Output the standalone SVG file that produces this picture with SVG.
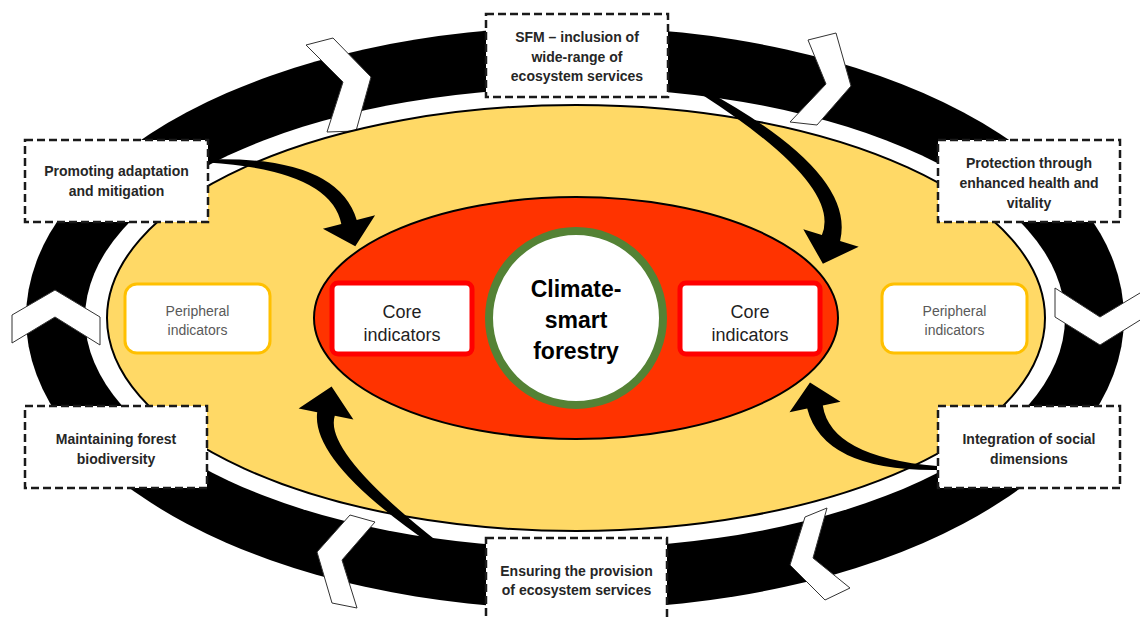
<svg xmlns="http://www.w3.org/2000/svg" width="1140" height="617" viewBox="0 0 1140 617">
<defs>
<style>
.chev{fill:#fff;stroke:#333;stroke-width:1}
.dash{fill:#fff;stroke:#1a1a1a;stroke-width:2.5;stroke-dasharray:8 4}
.lbl{font-family:"Liberation Sans",Arial,sans-serif;font-weight:bold;font-size:14px;fill:#262626;text-anchor:middle}
.core{fill:#fff;stroke:#ff0000;stroke-width:5}
.coret{font-family:"Liberation Sans",Arial,sans-serif;font-size:18px;fill:#1f1f1f;text-anchor:middle}
.peri{fill:#fff;stroke:#ffc000;stroke-width:3}
.perit{font-family:"Liberation Sans",Arial,sans-serif;font-size:14px;fill:#595959;text-anchor:middle}
.arrow{fill:#000}
</style>
</defs>
<rect width="1140" height="617" fill="#fff"/>
<g id="ring">
<ellipse cx="575" cy="318" rx="549" ry="291" fill="#000"/>
<ellipse cx="575" cy="318" rx="490" ry="230" fill="#fff"/>
</g>
<g id="chevrons">
<polygon class="chev" points="306,45 333,38 371,77 356,131 327,132 343,82"/>
<polygon class="chev" points="808,40 836,33 851,86 817,125 790,122 826,84"/>
<polygon class="chev" points="1055,288 1100,317 1145,290 1145,317 1100,345 1055,317"/>
<polygon class="chev" points="12,315 55,290 100,317 100,345 55,317 12,343"/>
<polygon class="chev" points="350,515 375,522 342,560 357,608 332,603 317,552"/>
<polygon class="chev" points="805,517 827,508 813,558 850,588 825,600 790,565"/>
</g>
<g id="peripheral-zone">
<ellipse cx="576" cy="318" rx="469" ry="213" fill="#ffd966" stroke="#000" stroke-width="2"/>
</g>
<g id="core-zone">
<ellipse cx="576" cy="318" rx="262" ry="121" fill="#ff3300" stroke="#000" stroke-width="2"/>
</g>
<g id="center">
<circle cx="576" cy="318" r="87" fill="#fff" stroke="#548235" stroke-width="8"/>
<text font-family="Liberation Sans, Arial, sans-serif" font-weight="bold" font-size="23" fill="#000" text-anchor="middle"><tspan x="576" y="297">Climate-</tspan><tspan x="576" y="328">smart</tspan><tspan x="576" y="359">forestry</tspan></text>
</g>
<g id="core-left">
<rect class="core" x="332" y="283" width="140" height="71" rx="6"/>
<text class="coret"><tspan x="402" y="318">Core</tspan><tspan x="402" y="341">indicators</tspan></text>
</g>
<g id="core-right">
<rect class="core" x="680" y="283" width="140" height="71" rx="6"/>
<text class="coret"><tspan x="750" y="318">Core</tspan><tspan x="750" y="341">indicators</tspan></text>
</g>
<g id="peripheral-left">
<rect class="peri" x="125" y="284" width="145" height="69" rx="12"/>
<text class="perit"><tspan x="197.5" y="316">Peripheral</tspan><tspan x="197.5" y="335">indicators</tspan></text>
</g>
<g id="peripheral-right">
<rect class="peri" x="882" y="284" width="145" height="69" rx="12"/>
<text class="perit"><tspan x="954.5" y="316">Peripheral</tspan><tspan x="954.5" y="335">indicators</tspan></text>
</g>
<g id="connectors">
<path class="arrow" d="M208,159.5 Q337,155.7 356.7,220 L375.1,215.3 L355.3,246.2 L322.9,228.8 L341.3,224 Q330.8,170.3 208,162.5 Z"/>
<path class="arrow" d="M705,90 Q856.6,172.7 840.1,240.9 L858.7,246.7 L822.9,263.8 L803.3,229.3 L821.9,235.1 Q842.6,185.3 701,94 Z"/>
<path class="arrow" d="M432,545 Q311,462 317.2,412.2 L298.6,408.4 L331.6,386.6 L353.4,419.6 L334.8,415.8 Q323.4,451.8 438,542 Z"/>
<path class="arrow" d="M937,470 Q823.4,471.2 807.2,408.6 L789.5,412.2 L810,382.5 L840.5,401.8 L822.8,405.4 Q830.6,456.8 937,466 Z"/>
</g>
<g id="sfm">
<rect class="dash" x="486" y="14" width="182" height="83"/>
<text class="lbl"><tspan x="577" y="42">SFM – inclusion of</tspan><tspan x="577" y="62">wide-range of</tspan><tspan x="577" y="81">ecosystem services</tspan></text>
</g>
<g id="promoting">
<rect class="dash" x="25" y="140" width="183" height="82"/>
<text class="lbl"><tspan x="116.5" y="176">Promoting adaptation</tspan><tspan x="116.5" y="196">and mitigation</tspan></text>
</g>
<g id="protection">
<rect class="dash" x="938" y="140" width="182" height="82"/>
<text class="lbl"><tspan x="1029" y="168">Protection through</tspan><tspan x="1029" y="188">enhanced health and</tspan><tspan x="1029" y="208">vitality</tspan></text>
</g>
<g id="maintaining">
<rect class="dash" x="25" y="406" width="182" height="82"/>
<text class="lbl"><tspan x="116" y="444">Maintaining forest</tspan><tspan x="116" y="464">biodiversity</tspan></text>
</g>
<g id="integration">
<rect class="dash" x="938" y="406" width="182" height="82"/>
<text class="lbl"><tspan x="1029" y="444">Integration of social</tspan><tspan x="1029" y="464">dimensions</tspan></text>
</g>
<g id="ensuring">
<rect class="dash" x="486" y="538" width="181" height="86"/>
<text class="lbl"><tspan x="576.5" y="576">Ensuring the provision</tspan><tspan x="576.5" y="595">of ecosystem services</tspan></text>
</g>
</svg>
